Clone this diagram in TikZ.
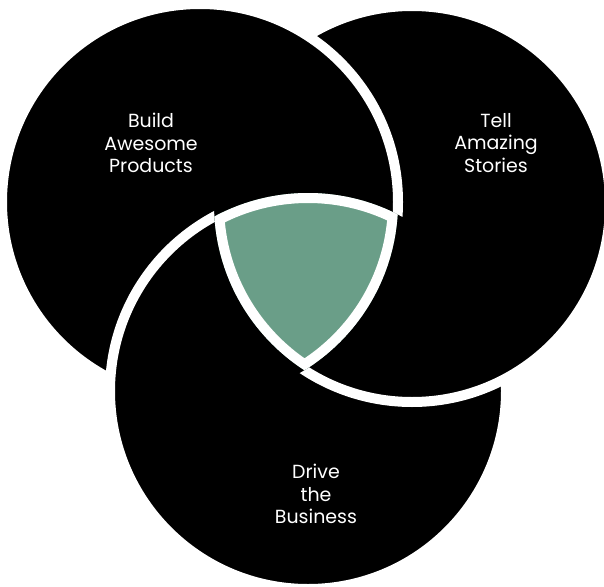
\documentclass[tikz,border=0pt]{standalone}
\usepackage{fontspec}
\setmainfont{Poppins}
\usetikzlibrary{positioning}
\definecolor{sage}{RGB}{106,158,136}

\begin{document}
\begin{tikzpicture}[
	rim/.style = { draw=white, line width=0.25cm },
	words/.style = { text=white, align=center, font=\fontsize{13.5}{16}\selectfont }]

  \useasboundingbox (0,0) rectangle (15.1,14.65);
  \def\rad{4.95}
  \coordinate (build) at (5.0,9.6);
  \coordinate (tell) at (10.3,9.55);
  \coordinate (drive) at (7.7,4.875);

  \fill (build) circle (\rad);
  \fill (tell) circle (\rad);
  \fill (drive) circle (\rad);

  % each rim is hidden where the next circle lies over it
  \begin{scope}
    \pgfseteorule
    \clip (-1,-1) rectangle (16,16) (drive) circle (\rad);
    \draw[rim] (build) circle (\rad);
  \end{scope}
  \begin{scope}
    \pgfseteorule
    \clip (-1,-1) rectangle (16,16) (build) circle (\rad);
    \draw[rim] (tell) circle (\rad);
  \end{scope}
  \begin{scope}
    \pgfseteorule
    \clip (-1,-1) rectangle (16,16) (tell) circle (\rad);
    \draw[rim] (drive) circle (\rad);
  \end{scope}

  % the middle
  \begin{scope}
    \clip (build) circle (\rad);
    \clip (tell) circle (\rad);
    \clip (drive) circle (\rad);
    \fill[sage] (drive) circle (\rad);
    \draw[white, line width=0.5cm] (build) circle (\rad) (tell) circle (\rad) (drive) circle (\rad);
  \end{scope}

  \node[words] (product) at (3.775,11.075) {Build\\Awesome\\Products};
  \node[words] (story) at (12.4,11.075) {Tell\\Amazing\\Stories};
  \node[words] (business) at (7.9,2.3) {Drive\\the\\Business};
\end{tikzpicture}
\end{document}
